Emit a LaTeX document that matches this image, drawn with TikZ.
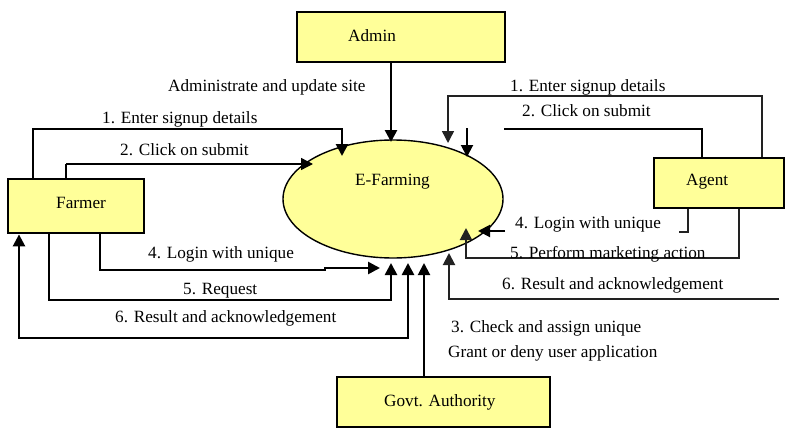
\documentclass[tikz,border=0pt]{standalone}
\usepackage{fontspec}
\setmainfont{Liberation Serif}
\usetikzlibrary{arrows.meta,shapes.geometric}
\definecolor{boxyellow}{HTML}{FFFF99}
\definecolor{linegray}{HTML}{222222}
\begin{document}
\begin{tikzpicture}[x=1pt,y=-1pt,
  box/.style={draw=black,fill=boxyellow,line width=2.8pt,inner sep=0pt},
  lbl/.style={anchor=base west,inner sep=0pt,font=\fontsize{17.2}{20}\selectfont},
  tip/.style={-{Triangle[length=12pt,width=12pt]}},
  wA/.style={line width=2.6pt,black},
  wB/.style={line width=2pt,linegray},
  wC/.style={line width=1.4pt,linegray}]
\useasboundingbox (0,0) rectangle (787,428);

% entities
\node[box,minimum width=208pt,minimum height=50pt] (admin) at (401,37) {};
\node[box,minimum width=136pt,minimum height=54pt] (farmer) at (76,206) {};
\node[box,line width=2pt,minimum width=130pt,minimum height=50pt] (agent) at (719,183) {};
\node[box,minimum width=213pt,minimum height=50pt] (govt) at (443.5,402) {};
\node[ellipse,draw=black,fill=boxyellow,line width=1.4pt,minimum width=220pt,minimum height=118pt,inner sep=0pt] (ef) at (393,199) {};

\node[lbl] (tadmin) at (348,42) {Admin};
\node[lbl] (tfarmer) at (56,208) {Farmer};
\node[lbl] (tagent) at (686,185) {Agent};
\node[lbl] (tgovt) at (384,406) {Govt. Authority};
\node[lbl] (tef) at (355,185) {E-Farming};

% connector end points
\coordinate (eAdm) at (391,142);
\coordinate (eF1) at (342,156);
\coordinate (eF2) at (313,164);
\coordinate (eF4) at (380,268);
\coordinate (eF5) at (391,263);
\coordinate (eF6) at (408,263);
\coordinate (eGov) at (424,263);
\coordinate (eA1) at (448,143);
\coordinate (sA2) at (467,128);
\coordinate (eA2) at (467,157);
\coordinate (sA4) at (505,231);
\coordinate (eA4) at (478,231);
\coordinate (eA5) at (466,228);
\coordinate (sA6) at (779,299);
\coordinate (eA6) at (449,253);

% admin
\draw[wA,tip] ([xshift=-10pt]admin.south) -- (eAdm);
\node[lbl] (lAdm) at (168,92) {Administrate and update site};

% farmer
\draw[wA,tip] ([xshift=-43pt]farmer.north) |- (342,129) -- (eF1);
\node[lbl] (lF1) at (102,123) {1. Enter signup details};
\draw[wA] ([xshift=-10pt]farmer.north) -- (66,164);
\draw[wC,black,tip] (66,164) -- (eF2);
\node[lbl] (lF2) at (120,155) {2. Click on submit};
\draw[wA,tip] ([xshift=24pt]farmer.south) |- (325,270) -- (325,268) -- (eF4);
\node[lbl] (lF4) at (148,258) {4. Login with unique};
\draw[wA,tip] ([xshift=-27pt]farmer.south) |- (391,300) -- (eF5);
\node[lbl] (lF5) at (183,294) {5. Request};
\draw[wA,{Triangle[length=12pt,width=12pt]}-{Triangle[length=12pt,width=12pt]}] (eF6) -- (408,338) -- (19,338) -- ([xshift=-57pt]farmer.south);
\node[lbl] (lF6) at (115,322) {6. Result and acknowledgement};

% govt
\draw[wB,black,tip] ([xshift=-19.5pt]govt.north) -- (eGov);
\node[lbl] (lG1) at (451,332) {3. Check and assign unique};
\node[lbl] (lG2) at (448,357) {Grant or deny user application};

% agent
\draw[wC,tip] ([xshift=43pt]agent.north) |- (448,96) -- (eA1);
\node[lbl] (lA1) at (510,92) {1. Enter signup details};
\draw[wA] ([xshift=-17pt]agent.north) |- (504,129);
\draw[wB,black,tip] (sA2) -- (eA2);
\node[lbl] (lA2) at (522,116) {2. Click on submit};
\draw[wB] ([xshift=-31pt]agent.south) |- (679,232);
\draw[wB,black,tip] (sA4) -- (eA4);
\node[lbl] (lA4) at (515,228) {4. Login with unique};
\draw[wB,tip] ([xshift=20pt]agent.south) |- (466,258) -- (eA5);
\node[lbl] (lA5) at (510,258) {5. Perform marketing action};
\draw[wB,tip] (sA6) -- (449,299) -- (eA6);
\node[lbl] (lA6) at (502,289) {6. Result and acknowledgement};
\end{tikzpicture}
\end{document}
